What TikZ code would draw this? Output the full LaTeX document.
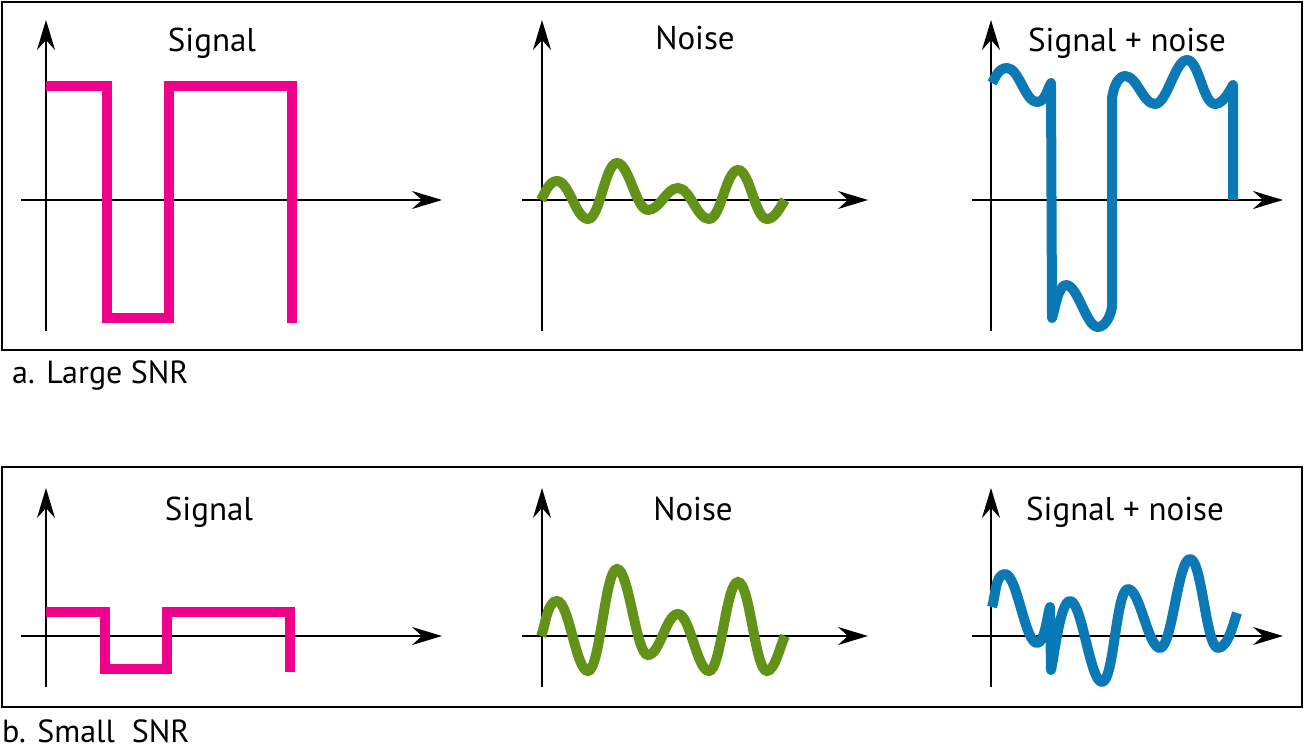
\documentclass[tikz,border=0pt]{standalone}
\usepackage{fontspec}
\setmainfont{PT Sans}
\usepackage{tikz}
\usetikzlibrary{arrows.meta}
\definecolor{sigPink}{RGB}{236,0,140}
\definecolor{noiseGreen}{RGB}{98,146,24}
\definecolor{mixBlue}{RGB}{10,121,181}
\tikzset{swing/.style={out=0, in=180, distance=12pt}}

\begin{document}
\begin{tikzpicture}[x=1pt, y=1pt,
  frame/.style={draw, line width=2.5pt},
  axis/.style={line width=2pt, -{Stealth[length=30pt, width=18pt, inset=10pt]}},
  title/.style={anchor=base, inner sep=0pt, font=\fontsize{33}{38}\selectfont},
  caption/.style={anchor=base west, inner sep=0pt, font=\fontsize{32}{38}\selectfont},
  sig/.style={line width=10pt, draw=sigPink, line join=miter},
  noise/.style={line width=10pt, draw=noiseGreen},
  mix/.style={line width=10pt, draw=mixBlue, line join=round}
]
  \useasboundingbox (0,0) rectangle (1305,-751);

  % Frames
  \draw[frame] (2,-2) rectangle (1302,-350);
  \draw[frame] (2,-467) rectangle (1302,-707);

  % Axes
  \foreach \ox/\oy/\xl/\xr/\yb/\yt in {46/-200/21/442/-331/-20, 542/-200/522/868/-331/-20,
      991/-200/972/1283/-331/-20, 46/-636/21/442/-687/-488,
      542/-636/522/868/-687/-488, 991/-636/972/1283/-687/-488} {
    \draw[axis] (\xl,\oy) -- (\xr,\oy);
    \draw[axis] (\ox,\yb) -- (\ox,\yt);
  }

  % Titles
  \node[title] (sigA) at (212,-52) {Signal};
  \node[title] (noiseA) at (695,-50) {Noise};
  \node[title] (mixA) at (1127,-52) {Signal + noise};
  \node[title] (sigB) at (209,-520) {Signal};
  \node[title] (noiseB) at (693,-520) {Noise};
  \node[title] (mixB) at (1125,-520) {Signal + noise};

  \node[caption] (capA) at (12,-383) {a. Large SNR};
  \node[caption] (capB) at (2,-742) {b. Small~~SNR};

  % a. Large SNR
  \draw[sig] (46,-86) -- (107,-86) -- (107,-318) -- (169,-318) -- (169,-86)
    -- (292,-86) -- (292,-323);
  \draw[noise] (541,-200) to[out=60,in=180,distance=8pt] (557,-181) to[swing] (588,-219)
    to[swing] (617,-163) to[swing] (648,-210) to[swing] (678,-188)
    to[swing] (709,-219) to[swing] (738,-170) to[swing] (767,-219)
    to[out=0,in=-125,distance=8pt] (785,-200);
  \draw[mix] (992,-83) to[out=60,in=180,distance=8pt] (1007,-68) to[swing] (1037,-102)
    to[out=0,in=-120,distance=8pt] (1051,-83) -- (1052,-318)
    to[out=70,in=180,distance=8pt] (1066,-285) to[swing] (1098,-327)
    to[out=0,in=-90,distance=8pt] (1112,-305) -- (1112,-100)
    to[out=90,in=180,distance=8pt] (1125,-76) to[swing] (1155,-104) to[swing] (1187,-60)
    to[swing] (1215,-104) to[out=0,in=-120,distance=8pt] (1233,-85) -- (1233,-200);

  % b. Small SNR
  \draw[sig] (46,-612) -- (105,-612) -- (105,-669) -- (167,-669) -- (167,-612)
    -- (290,-612) -- (290,-672);
  \draw[noise] (541,-636) to[out=65,in=180,distance=10pt] (557,-601) to[swing] (588,-671)
    to[swing] (617,-569) to[swing] (648,-655) to[swing] (678,-614)
    to[swing] (709,-671) to[swing] (738,-582) to[swing] (767,-671)
    to[out=0,in=-120,distance=8pt] (785,-636);
  \draw[mix] (992,-607) to[out=70,in=180,distance=10pt] (1005,-574) to[swing] (1037,-643)
    to[out=0,in=-110,distance=8pt] (1050,-607) -- (1051,-670)
    to[out=75,in=180,distance=10pt] (1070,-601) to[swing] (1102,-682)
    to[swing] (1128,-589) to[swing] (1160,-648) to[swing] (1190,-559)
    to[swing] (1218,-648) to[out=0,in=-110,distance=10pt] (1237,-613);
\end{tikzpicture}
\end{document}
